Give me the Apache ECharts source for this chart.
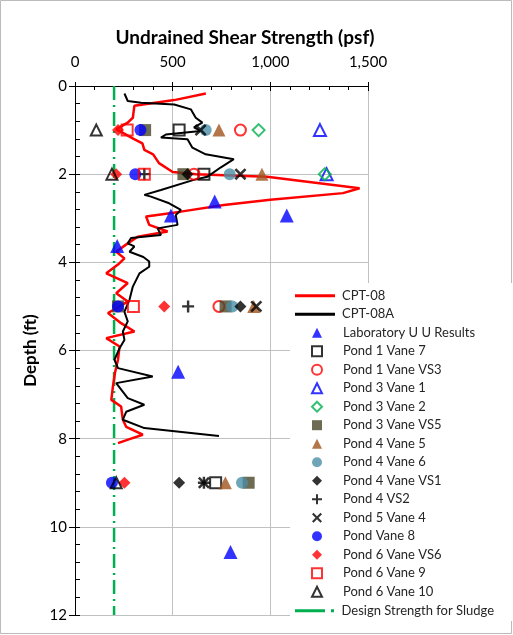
<!DOCTYPE html>
<html><head><meta charset="utf-8">
<script src="https://cdn.jsdelivr.net/npm/echarts@6/dist/echarts.min.js"></script>
<style>html,body{margin:0;padding:0;background:#fff}#c{width:513px;height:635px}</style>
</head><body><div id="c"></div>
<script>
// ---- data ----
const xTitle = 'Undrained Shear Strength (psf)';
const yTitle = 'Depth (ft)';
const cpt08Depth = [0.17,0.32,0.45,0.72,0.83,0.98,1.2,1.3,1.45,1.55,1.75,1.95,2.0,2.06,2.32,2.43,2.58,2.70,2.85,2.96,3.15,3.30,3.42,3.57,3.76,3.91,4.05,4.25,4.47,4.70,4.89,5.15,5.38,5.57,5.72,5.91,6.21,6.5,6.82,7.12,7.27,7.57,7.73,7.91,8.01,8.10];
const cpt08Su    = [670,508,304,296,270,211,300,345,355,400,430,500,620,983,1457,1372,1000,762,542,364,380,474,321,270,211,253,220,160,270,211,270,169,236,304,160,228,220,205,194,186,236,245,262,347,279,220];
const cpt08aDepth = [0.17,0.34,0.38,0.42,0.53,0.72,0.83,0.94,1.02,1.10,1.17,1.21,1.40,1.55,1.66,1.85,2.06,2.13,2.36,2.47,2.51,2.66,2.81,2.93,3.15,3.23,3.38,3.45,3.57,3.64,3.76,3.88,3.98,4.1,4.25,4.55,4.85,5.12,5.34,5.57,5.76,5.95,6.21,6.40,6.59,6.74,7.08,7.23,7.39,7.57,7.76,7.94];
const cpt08aSu    = [253,270,338,508,593,618,652,609,643,465,440,576,601,669,813,745,677,608,440,355,389,482,542,516,525,423,440,287,270,304,279,350,380,380,330,296,279,253,270,245,253,228,202,220,398,211,270,355,262,245,355,737];
const labUU      = [[715,2.62],[491,2.94],[1084,2.94],[216,3.63],[528,6.48],[796,10.57]];
const p1v7       = [[533,1],[660,2],[720,9]];
const p1vs3      = [[847,1],[609,2],[737,5]];
const p3v1       = [[1254,1],[1288,2]];
const p3v2       = [[940,1],[1279,2]];
const p3vs5      = [[359,1],[555,2],[220,5],[771,5],[889,9]];
const p4v5       = [[737,1],[957,2],[915,5],[770,9]];
const p4v6       = [[669,1],[792,2],[805,5],[855,9]];
const p4vs1      = [[576,2],[847,5],[533,9]];
const p4vs2      = [[355,2],[579,5],[660,9]];
const p5v4       = [[643,1],[847,2],[928,5],[660,9]];
const pv8        = [[335,1],[309,2],[220,5],[189,9]];
const p6vs6      = [[220,1],[211,2],[457,5],[253,9]];
const p6v9       = [[267,1],[355,2],[299,5]];
const p6v10      = [[109,1],[189,2],[211,9]];
const designSu   = 200;
const designDepth = [0,12];
const lineNames = ['CPT-08','CPT-08A'];
const markerNames = ['Laboratory U U Results','Pond 1 Vane 7','Pond 1 Vane VS3','Pond 3 Vane 1','Pond 3 Vane 2','Pond 3 Vane VS5','Pond 4 Vane 5','Pond 4 Vane 6','Pond 4 Vane VS1','Pond 4 VS2','Pond 5 Vane 4','Pond Vane 8','Pond 6 Vane VS6','Pond 6 Vane 9','Pond 6 Vane 10'];
const designName = 'Design Strength for Sludge';

// ---- chart ----
const PLUS = 'path://M4,0H6V4H10V6H6V10H4V6H0V4H4Z';
const CROSS = 'path://M1.5,0L5,3.5L8.5,0L10,1.5L6.5,5L10,8.5L8.5,10L5,6.5L1.5,10L0,8.5L3.5,5L0,1.5Z';
const DASHDOT = 'path://M0,0H30V3H0Z M36,0H39V3H36Z';
const pair = (d, v) => d.map((dd, i) => [v[i], dd]);
function sc(name, data, symbol, color, open, size) {
  return {
    name, type: 'scatter', data, symbol, symbolSize: size || 10, z: 5,
    itemStyle: open ? {color: 'rgba(0,0,0,0)', borderColor: color, borderWidth: 2}
                    : {color: color, borderWidth: 0}
  };
}
const FONT = 'Lato';
const chart = echarts.init(document.getElementById('c'));
const axCommonX = {type: 'value', min: 0, max: 1500, interval: 500, position: 'top'};
const axCommonY = {type: 'value', min: 0, max: 12, interval: 2, inverse: true, position: 'left'};
const legText = {fontSize: 13, color: '#262626', fontFamily: FONT, lineHeight: 14};
chart.setOption({
  animation: false,
  backgroundColor: '#fff',
  textStyle: {fontFamily: FONT},
  grid: {left: 75, top: 86, width: 293, height: 529, containLabel: false},
  xAxis: [
    Object.assign({}, axCommonX, {
      axisLine: {show: true, lineStyle: {color: '#000', width: 1}},
      axisTick: {show: true, inside: false, length: 4, lineStyle: {color: '#000'}},
      axisLabel: {margin: 16, fontSize: 15, color: '#000', fontFamily: FONT,
        formatter: v => v.toLocaleString('en-US')},
      splitLine: {show: true, lineStyle: {color: '#c0c0c0', width: 1}}
    }),
    Object.assign({}, axCommonX, {
      axisLine: {show: false},
      axisTick: {show: true, inside: true, length: 5, lineStyle: {color: '#000'}},
      minorTick: {show: true, splitNumber: 5, length: 4, lineStyle: {color: '#000'}},
      axisLabel: {show: false}, splitLine: {show: false}
    })
  ],
  yAxis: [
    Object.assign({}, axCommonY, {
      name: yTitle, nameLocation: 'middle', nameGap: 36, nameRotate: 90,
      nameTextStyle: {fontFamily: FONT, fontWeight: 'bold', fontSize: 17, color: '#000'},
      axisLine: {show: true, lineStyle: {color: '#000', width: 1}},
      axisTick: {show: true, inside: false, length: 6, lineStyle: {color: '#000'}},
      axisLabel: {margin: 8, fontSize: 15, color: '#000', fontFamily: FONT},
      splitLine: {show: true, lineStyle: {color: '#c0c0c0', width: 1}}
    }),
    Object.assign({}, axCommonY, {
      axisLine: {show: false},
      axisTick: {show: true, inside: true, length: 5, lineStyle: {color: '#000'}},
      minorTick: {show: true, splitNumber: 5, length: 5, lineStyle: {color: '#000'}},
      axisLabel: {show: false}, splitLine: {show: false}
    })
  ],
  legend: [
    {orient: 'vertical', left: 295, top: 288.7, padding: 0, itemWidth: 40, itemHeight: 3,
     itemGap: 4.5, icon: 'rect', textStyle: Object.assign({padding: [0,0,0,2]}, legText),
     data: lineNames},
    {orient: 'vertical', left: 311, top: 325.7, padding: 0, itemWidth: 10, itemHeight: 10,
     itemGap: 4.5, textStyle: Object.assign({padding: [0,0,0,16]}, legText),
     data: markerNames},
    {orient: 'vertical', left: 295, top: 603.7, padding: 0, itemWidth: 40, itemHeight: 3,
     itemGap: 4.5, icon: DASHDOT, textStyle: Object.assign({padding: [0,0,0,2]}, legText),
     data: [designName]}
  ],
  series: [
    {name: 'CPT-08', type: 'line', data: pair(cpt08Depth, cpt08Su), symbol: 'none', z: 3,
     lineStyle: {color: '#ff0000', width: 2.5}, itemStyle: {color: '#ff0000'}},
    {name: 'CPT-08A', type: 'line', data: pair(cpt08aDepth, cpt08aSu), symbol: 'none', z: 3,
     lineStyle: {color: '#000', width: 2}, itemStyle: {color: '#000'}},
    sc(markerNames[0], labUU, 'triangle', '#0000ff', false, 14),
    sc(markerNames[1], p1v7, 'rect', '#000', true, 11),
    sc(markerNames[2], p1vs3, 'circle', '#ff0000', true, 11),
    sc(markerNames[3], p3v1, 'triangle', '#0000ff', true, 12),
    sc(markerNames[4], p3v2, 'diamond', '#00b050', true, 12),
    sc(markerNames[5], p3vs5, 'rect', '#4a4628', false, 12),
    sc(markerNames[6], p4v5, 'triangle', '#a0521d', false, 13),
    sc(markerNames[7], p4v6, 'circle', '#4a8ea6', false, 12),
    sc(markerNames[8], p4vs1, 'diamond', '#000', false, 12),
    sc(markerNames[9], p4vs2, PLUS, '#000', false, 12),
    sc(markerNames[10], p5v4, CROSS, '#000', false, 12),
    sc(markerNames[11], pv8, 'circle', '#0000ff', false, 12),
    sc(markerNames[12], p6vs6, 'diamond', '#ff0000', false, 12),
    sc(markerNames[13], p6v9, 'rect', '#ff0000', true, 11),
    sc(markerNames[14], p6v10, 'triangle', '#000', true, 11),
    {name: designName, type: 'line', symbol: 'none', z: 2,
     data: designDepth.map(d => [designSu, d]),
     lineStyle: {color: '#00b050', width: 2.5, type: [14, 5, 2, 5]}, itemStyle: {color: '#00b050'}}
  ],
  graphic: [
    {type: 'rect', shape: {x: 0.5, y: 0.5, width: 511, height: 633},
     style: {fill: 'none', stroke: '#bbb', lineWidth: 1}, silent: true, z: -1},
    {type: 'rect', shape: {x: 290, y: 283, width: 222, height: 338},
     style: {fill: '#fff'}, silent: true, z: 1},
    {type: 'text', x: 245, y: 38, silent: true, z: 10,
     style: {text: xTitle, fill: '#000', font: 'bold 19px Lato', textAlign: 'center', textVerticalAlign: 'middle'}}
  ]
});
</script></body></html>
